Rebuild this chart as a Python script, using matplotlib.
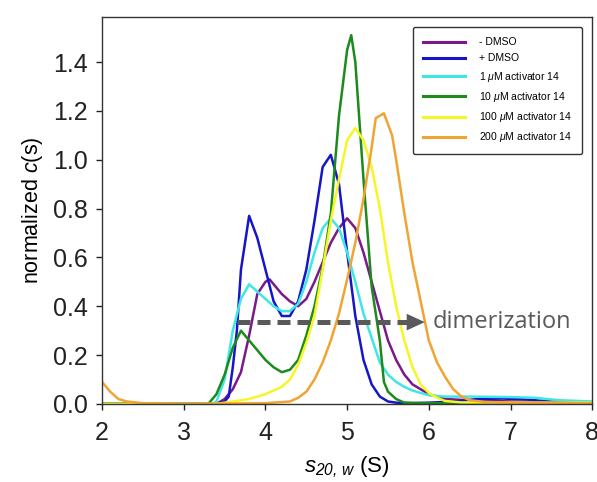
"""Normalized c(s) distributions, recreated."""
import matplotlib
matplotlib.use('Agg')
import matplotlib.pyplot as plt

plt.rcParams['font.family'] = ['Liberation Sans', 'DejaVu Sans']
plt.rcParams['mathtext.fontset'] = 'custom'
plt.rcParams['mathtext.it'] = 'Liberation Sans:italic'
plt.rcParams['mathtext.rm'] = 'Liberation Sans:italic'  # italic digits in the subscript

# ---- data ----
s_minus = [2.0, 3.4, 3.5, 3.6, 3.7, 3.8, 3.9, 4.0, 4.05, 4.1, 4.2, 4.3, 4.4, 4.5, 4.6, 4.7,
           4.8, 4.9, 5.0, 5.1, 5.2, 5.3, 5.4, 5.5, 5.6, 5.7, 5.8, 5.9, 6.0, 6.1, 6.2, 6.5, 7.0, 8.0]
c_minus = [0.0, 0.0, 0.02, 0.06, 0.13, 0.28, 0.45, 0.50, 0.51, 0.49, 0.45, 0.42, 0.40, 0.43, 0.50, 0.58,
           0.66, 0.72, 0.76, 0.72, 0.62, 0.50, 0.38, 0.26, 0.18, 0.12, 0.08, 0.06, 0.04, 0.03, 0.02, 0.015, 0.01, 0.005]

s_plus = [2.0, 3.4, 3.5, 3.55, 3.6, 3.65, 3.7, 3.8, 3.9, 4.0, 4.1, 4.2, 4.3, 4.4, 4.5, 4.6, 4.7,
          4.8, 4.9, 5.0, 5.1, 5.2, 5.3, 5.4, 5.5, 5.6, 5.8, 6.0, 6.3, 6.6, 6.9, 7.2, 7.5, 8.0]
c_plus = [0.0, 0.0, 0.01, 0.03, 0.15, 0.30, 0.55, 0.77, 0.68, 0.55, 0.42, 0.36, 0.36, 0.42, 0.55, 0.75, 0.97,
          1.02, 0.90, 0.62, 0.36, 0.18, 0.08, 0.03, 0.01, 0.005, 0.003, 0.005, 0.01, 0.02, 0.022, 0.018, 0.01, 0.005]

s_1uM = [2.0, 3.35, 3.4, 3.5, 3.6, 3.7, 3.8, 3.9, 4.0, 4.1, 4.2, 4.3, 4.4, 4.5, 4.6, 4.7, 4.8, 4.9,
         5.0, 5.1, 5.2, 5.3, 5.4, 5.5, 5.6, 5.7, 5.8, 5.9, 6.0, 6.2, 6.5, 7.0, 7.3, 7.6, 8.0]
c_1uM = [0.0, 0.0, 0.01, 0.10, 0.30, 0.43, 0.49, 0.46, 0.43, 0.40, 0.38, 0.38, 0.41, 0.50, 0.62, 0.72, 0.76, 0.72,
         0.62, 0.50, 0.37, 0.27, 0.17, 0.12, 0.09, 0.07, 0.055, 0.045, 0.035, 0.03, 0.03, 0.028, 0.025, 0.015, 0.01]

s_10uM = [2.0, 3.3, 3.4, 3.5, 3.6, 3.7, 3.8, 3.9, 4.0, 4.1, 4.2, 4.3, 4.4, 4.5, 4.6, 4.7, 4.8, 4.9,
          5.0, 5.05, 5.1, 5.2, 5.3, 5.4, 5.45, 5.5, 5.6, 5.7, 6.0, 8.0]
c_10uM = [0.0, 0.0, 0.04, 0.12, 0.23, 0.30, 0.26, 0.22, 0.18, 0.15, 0.13, 0.14, 0.18, 0.28, 0.40, 0.56, 0.78, 1.18,
          1.45, 1.51, 1.40, 0.92, 0.48, 0.26, 0.09, 0.05, 0.02, 0.005, 0.003, 0.002]

s_100uM = [2.0, 3.4, 3.6, 3.8, 4.0, 4.1, 4.2, 4.3, 4.4, 4.5, 4.6, 4.7, 4.8, 4.9, 5.0, 5.1, 5.2,
           5.3, 5.4, 5.5, 5.6, 5.7, 5.8, 5.9, 6.0, 6.1, 6.2, 6.4, 8.0]
c_100uM = [0.0, 0.0, 0.01, 0.02, 0.04, 0.055, 0.07, 0.10, 0.16, 0.25, 0.36, 0.55, 0.75, 0.92, 1.08, 1.13, 1.08,
           0.97, 0.80, 0.58, 0.40, 0.26, 0.15, 0.08, 0.045, 0.025, 0.012, 0.006, 0.005]

s_200uM = [2.0, 2.1, 2.2, 2.3, 2.5, 3.0, 4.0, 4.3, 4.4, 4.5, 4.6, 4.7, 4.8, 4.9, 5.0, 5.1, 5.2,
           5.3, 5.35, 5.45, 5.55, 5.6, 5.7, 5.8, 5.9, 6.0, 6.1, 6.2, 6.3, 6.4, 6.5, 6.7, 7.0, 8.0]
c_200uM = [0.09, 0.05, 0.02, 0.01, 0.003, 0.0, 0.003, 0.01, 0.025, 0.05, 0.10, 0.17, 0.26, 0.37, 0.51, 0.66, 0.84,
           1.05, 1.17, 1.19, 1.10, 1.00, 0.78, 0.58, 0.42, 0.26, 0.17, 0.11, 0.06, 0.03, 0.015, 0.008, 0.005, 0.003]

series = [
    (s_minus, c_minus, '#7a1a88', '- DMSO'),
    (s_plus, c_plus, '#1616c8', '+ DMSO'),
    (s_1uM, c_1uM, '#3fe6e6', r'1 $\mu$M activator 14'),
    (s_10uM, c_10uM, '#1c8a1c', r'10 $\mu$M activator 14'),
    (s_100uM, c_100uM, '#f6f626', r'100 $\mu$M activator 14'),
    (s_200uM, c_200uM, '#f0a431', r'200 $\mu$M activator 14'),
]

arrow_x = (3.65, 5.95)
arrow_y = 0.335

fig = plt.figure(figsize=(5.97, 4.82), dpi=100)
ax = fig.add_axes([0.171, 0.162, 0.821, 0.803])

for s, c, col, lab in series:
    ax.plot(s, c, color=col, lw=1.8, label=lab)

# dashed "dimerization" arrow
ax.plot([arrow_x[0], arrow_x[1] - 0.21], [arrow_y, arrow_y], color='#595959', lw=3.6,
        ls=(0, (2.6, 1.4)), dash_capstyle='butt', zorder=5)
ax.annotate('', xy=(arrow_x[1], arrow_y), xytext=(arrow_x[1] - 0.22, arrow_y),
            arrowprops=dict(arrowstyle='-|>,head_length=1.3,head_width=0.6',
                            mutation_scale=10, facecolor='#595959', edgecolor='none',
                            lw=0, shrinkA=0, shrinkB=0), zorder=5)
ax.text(arrow_x[1] + 0.1, arrow_y, 'dimerization', color='#595959', fontsize=17,
        family='Open Sans', va='center', ha='left')

ax.set_xlim(2, 8)
ax.set_ylim(0, 1.585)
ax.set_xticks(range(2, 9))
ax.set_yticks([0.0, 0.2, 0.4, 0.6, 0.8, 1.0, 1.2, 1.4])
ax.set_yticklabels([f'{v:.1f}' for v in ax.get_yticks()])
ax.tick_params(direction='out', length=4, width=1, labelsize=18, colors='#222222')
ax.tick_params(axis='x', pad=8)
ax.tick_params(axis='y', pad=6)
for sp in ax.spines.values():
    sp.set_color('#333333')
    sp.set_linewidth(1)

ax.set_ylabel(r'normalized $c$(s)', fontsize=15.5, labelpad=6)
ax.set_xlabel(r'$s_{20,\,w}$ (S)', fontsize=16, labelpad=7)

leg = ax.legend(loc='upper right', fontsize=7.5, handlelength=4.0, handletextpad=1.4,
                labelspacing=0.6, borderaxespad=1.0, borderpad=0.95, fancybox=True,
                framealpha=1)
leg.get_frame().set_edgecolor('#333333')
leg.get_frame().set_linewidth(1)
for line in leg.get_lines():
    line.set_linewidth(2.2)

plt.savefig('out.png', dpi=100)
print('saved out.png')
